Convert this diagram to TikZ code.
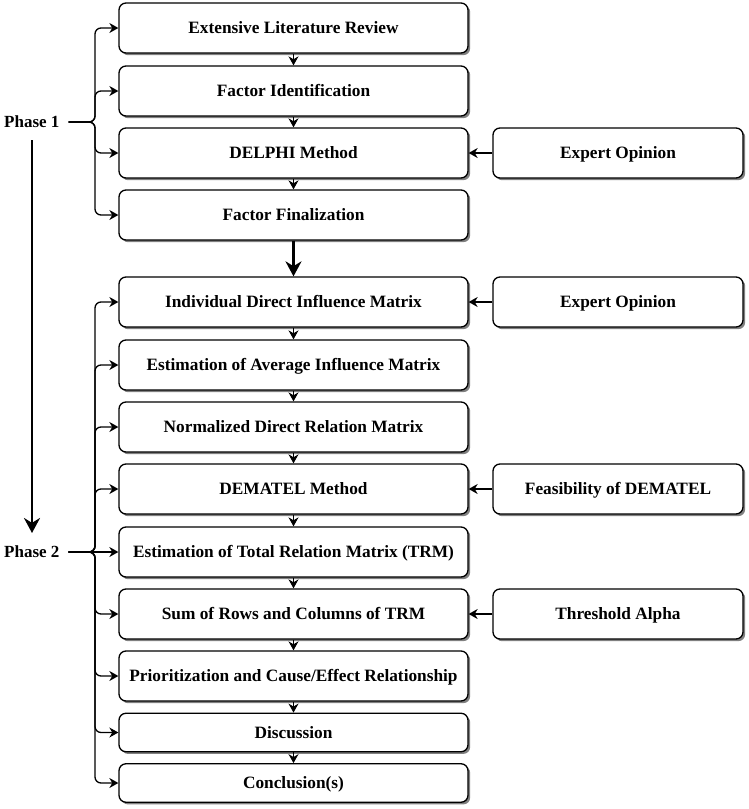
\documentclass[tikz,border=0pt]{standalone}
\usepackage{fontspec}
\setmainfont{Liberation Serif}
\usetikzlibrary{shadows,arrows.meta}
\begin{document}
\begin{tikzpicture}[x=1pt,y=-1pt,
  box/.style={draw, line width=1.3pt, rounded corners=7pt, fill=white,
    drop shadow={shadow xshift=2.2pt,shadow yshift=-2.2pt,fill=black!50,opacity=1},
    font=\bfseries\fontsize{17.3}{20}\selectfont, inner sep=0pt, align=center,
    text height=12.5pt, text depth=1pt},
  mainbox/.style={box, minimum width=349pt, minimum height=50pt},
  sidebox/.style={box, minimum width=250pt, minimum height=50pt},
  lbl/.style={font=\bfseries\fontsize{17}{20}\selectfont, inner sep=0pt, text height=12.5pt, text depth=1pt},
  arr/.style={line width=1.3pt, -{Stealth[length=9pt,width=10pt]}},
  brc/.style={line width=1.3pt, rounded corners=6pt, -{Stealth[length=9pt,width=10pt]}},
  bigarr/.style={line width=2.6pt, -{Stealth[length=15pt,width=16pt]}}
]
\useasboundingbox (0,0) rectangle (749,809);

% Phase 1 boxes
\node[mainbox] (b1) at (293.5,28) {Extensive Literature Review};
\node[mainbox] (b2) at (293.5,91) {Factor Identification};
\node[mainbox] (b3) at (293.5,153) {DELPHI Method};
\node[mainbox] (b4) at (293.5,215) {Factor Finalization};
% Phase 2 boxes
\node[mainbox] (b5) at (293.5,302) {Individual Direct Influence Matrix};
\node[mainbox] (b6) at (293.5,365) {Estimation of Average Influence Matrix};
\node[mainbox] (b7) at (293.5,427) {Normalized Direct Relation Matrix};
\node[mainbox] (b8) at (293.5,489) {DEMATEL Method};
\node[mainbox] (b9) at (293.5,552) {Estimation of Total Relation Matrix (TRM)};
\node[mainbox] (b10) at (293.5,614) {Sum of Rows and Columns of TRM};
\node[mainbox] (b11) at (293.5,676) {Prioritization and Cause/Effect Relationship};
\node[mainbox, minimum height=38.5pt] (b12) at (293.5,732.5) {Discussion};
\node[mainbox, minimum height=38.5pt] (b13) at (293.5,783) {Conclusion(s)};

% side boxes
\node[sidebox] (e1) at (618,153) {Expert Opinion};
\node[sidebox] (e2) at (618,302) {Expert Opinion};
\node[sidebox] (fd) at (618,489) {Feasibility of DEMATEL};
\node[sidebox] (ta) at (618,614) {Threshold Alpha};

% labels
\node[lbl, anchor=west] (p1) at (4,122) {Phase 1};
\node[lbl, anchor=west] (p2) at (4,552) {Phase 2};

% vertical connectors
\draw[arr] (b1) -- (b2);
\draw[arr] (b2) -- (b3);
\draw[arr] (b3) -- (b4);
\draw[bigarr] (b4) -- (b5);
\draw[arr] (b5) -- (b6);
\draw[arr] (b6) -- (b7);
\draw[arr] (b7) -- (b8);
\draw[arr] (b8) -- (b9);
\draw[arr] (b9) -- (b10);
\draw[arr] (b10) -- (b11);
\draw[arr] (b11) -- (b12);
\draw[arr] (b12) -- (b13);

% side connectors
\draw[arr] (e1) -- (b3);
\draw[arr] (e2) -- (b5);
\draw[arr] (fd) -- (b8);
\draw[arr] (ta) -- (b10);

% brace phase 1
\coordinate (k1) at (95,122);
\foreach \b in {b1,b2,b3,b4}
  \draw[brc] ([xshift=9pt]p1.east) -- (k1) |- (\b.west);
% brace phase 2
\coordinate (k2) at (95,552);
\foreach \b in {b5,b6,b7,b8,b10,b11,b12,b13}
  \draw[brc] ([xshift=9pt]p2.east) -- (k2) |- (\b.west);
\draw[arr] ([xshift=9pt]p2.east) -- (b9.west);

% phase arrow
\coordinate (v1) at (32,140);
\coordinate (v2) at (32,533);
\draw[bigarr] (v1) -- (v2);
\end{tikzpicture}
\end{document}
